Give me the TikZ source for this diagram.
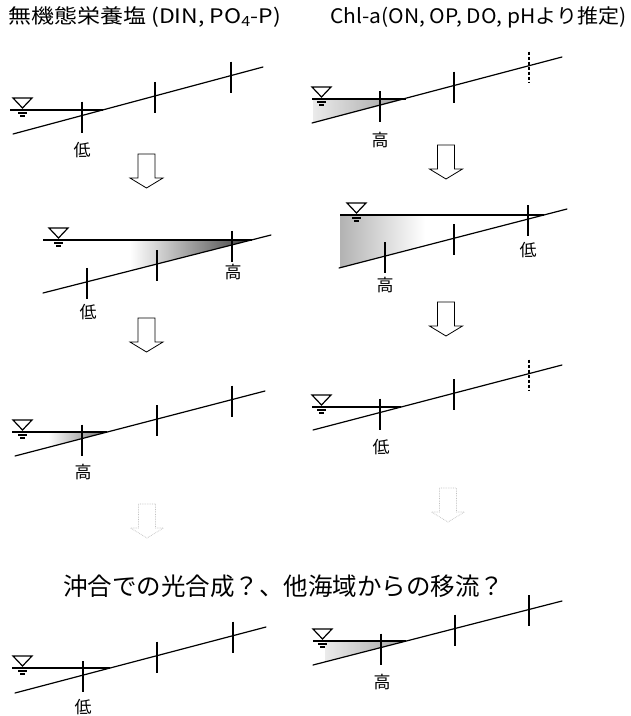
\documentclass[tikz,border=0pt]{standalone}
\usepackage{fontspec}
\setmainfont{Noto Sans CJK JP}
\usetikzlibrary{calc}
\tikzset{
  bedline/.style={line width=1.2pt, line cap=round},
  wline/.style={line width=1.1pt},
  tickline/.style={line width=1.5pt},
  symline/.style={line width=1.2pt},
  blockarrow/.style={draw=black, line width=0.8pt, fill=white, line join=miter},
  fadedarrow/.style={draw=black!25, line width=0.7pt, densely dotted},
  lbl/.style={font=\fontsize{17}{17}\selectfont, inner sep=0pt},
  hdr/.style={font=\fontsize{20}{20}\selectfont, inner sep=0pt, anchor=west},
}
\newcommand\wsym[2]{%
  \draw[symline] (#1,#2-12) -- (#1+19,#2-12) -- (#1+9.5,#2-2) -- cycle;
  \draw[symline] (#1+5,#2+3) -- (#1+14,#2+3);
  \draw[symline] (#1+7,#2+6) -- (#1+12,#2+6);}
\newcommand\btick[6]{% x, bed x0,y0,x1,y1, style
  \pgfmathsetmacro\tky{#3+(#5-#3)*(#1-#2)/(#4-#2)}%
  \draw[tickline,#6] (#1,\tky-14) -- (#1,\tky+17);}
\newcommand\darrow[3]{%
  \draw[#3] (#1-8.5,#2) -- (#1+8.5,#2) -- (#1+8.5,#2+24) -- (#1+16.5,#2+24)
    -- (#1,#2+34) -- (#1-16.5,#2+24) -- (#1-8.5,#2+24) -- cycle;}
\begin{document}
\begin{tikzpicture}[x=1pt,y=-1pt]
\useasboundingbox[fill=white] (0,0) rectangle (631,716);

% headers
\node[hdr] (h1) at (8,17) {\scalebox{1.15}[1]{無機態栄養塩 (DIN, PO\textsubscript{4}-P)}};
\node[hdr] (h2) at (330,17) {\scalebox{1.05}[1]{Chl-a(ON, OP, DO, pHより推定)}};

% shading
\shade[left color=black!8, right color=black!38] (313,99) -- (406,99) -- (313,123) -- cycle;
\shade[left color=white, right color=black!75] (130,240) -- (251,240) -- (130,271) -- cycle;
\shade[left color=black!30, right color=white] (340,215) -- (425,215) -- (425,245.7) -- (340,268) -- cycle;
\shade[left color=white, right color=black!55] (48,432) -- (106,432) -- (48,447.4) -- cycle;
\shade[left color=black!8, right color=black!35] (325,641) -- (406,641) -- (325,662) -- cycle;

% P1
\draw[bedline] (13,134) -- (263,67);
\draw[wline] (10,110) -- (102.5,110);
\wsym{13}{110}
\btick{82}{13}{134}{263}{67}{}
\btick{155}{13}{134}{263}{67}{}
\btick{231}{13}{134}{263}{67}{}
\node[lbl] (p1a) at (82,150) {低};

% P2
\draw[bedline] (312,123) -- (562,57);
\draw[wline] (312,99) -- (406,99);
\wsym{312}{99}
\btick{380}{312}{123}{562}{57}{}
\btick{454}{312}{123}{562}{57}{}
\btick{529}{312}{123}{562}{57}{densely dashed}
\node[lbl] (p2a) at (380,140) {高};

% P3
\draw[bedline] (43,293) -- (271,235);
\draw[wline] (43,240) -- (251.7,240);
\wsym{49}{240}
\btick{87}{43}{293}{271}{235}{}
\btick{157}{43}{293}{271}{235}{}
\btick{232}{43}{293}{271}{235}{}
\node[lbl] (p3a) at (233,272) {高};
\node[lbl] (p3b) at (88,312) {低};

% P4
\draw[bedline] (339,268) -- (567,209);
\draw[wline] (340,215) -- (544,215);
\wsym{347}{215}
\btick{385}{339}{268}{567}{209}{}
\btick{454}{339}{268}{567}{209}{}
\btick{528}{339}{268}{567}{209}{}
\node[lbl] (p4a) at (385,285) {高};
\node[lbl] (p4b) at (528,250) {低};

% P5
\draw[bedline] (15,456) -- (265,391);
\draw[wline] (12,432) -- (107,432);
\wsym{13}{432}
\btick{82}{15}{456}{265}{391}{}
\btick{157}{15}{456}{265}{391}{}
\btick{232}{15}{456}{265}{391}{}
\node[lbl] (p5a) at (83,472) {高};

% P6
\draw[bedline] (313,430) -- (562,365);
\draw[wline] (312,407) -- (401,407);
\wsym{312}{407}
\btick{380}{313}{430}{562}{365}{}
\btick{454}{313}{430}{562}{365}{}
\btick{529}{313}{430}{562}{365}{densely dashed}
\node[lbl] (p6a) at (381,447) {低};

% middle text
\node[font=\fontsize{24.5}{24.5}\selectfont, anchor=west, inner sep=0pt] (q) at (63,586) {沖合での光合成？、他海域からの移流？};

% P7
\draw[bedline] (15,693) -- (266,627);
\draw[wline] (12,668) -- (110,668);
\wsym{13}{668}
\btick{83}{15}{693}{266}{627}{}
\btick{157}{15}{693}{266}{627}{}
\btick{233}{15}{693}{266}{627}{}
\node[lbl] (p7a) at (83,707) {低};

% P8
\draw[bedline] (313,665) -- (562,601);
\draw[wline] (313,641) -- (406,641);
\wsym{313}{641}
\btick{381}{313}{665}{562}{601}{}
\btick{455}{313}{665}{562}{601}{}
\btick{529}{313}{665}{562}{601}{}
\node[lbl] (p8a) at (382,682) {高};

% arrows
\darrow{146.5}{154}{blockarrow}
\darrow{446}{145}{blockarrow}
\darrow{146.5}{318}{blockarrow}
\darrow{446}{302}{blockarrow}
\darrow{147}{504}{fadedarrow}
\darrow{448}{488}{fadedarrow}
\end{tikzpicture}
\end{document}
